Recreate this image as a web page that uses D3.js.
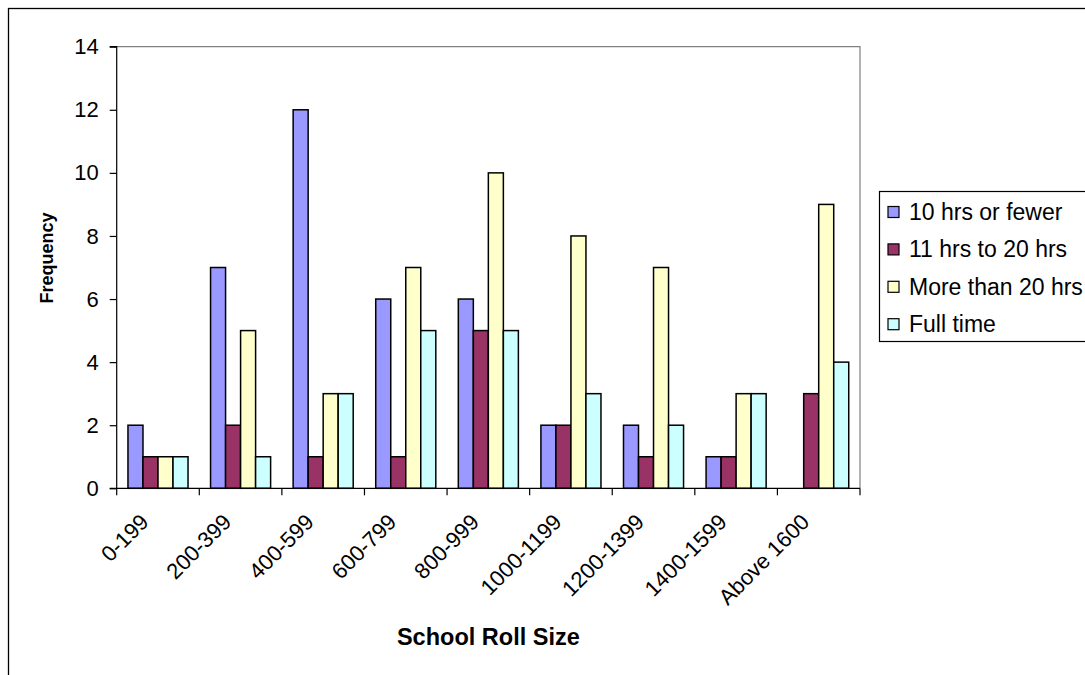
<!DOCTYPE html>
<html>
<head>
<meta charset="utf-8">
<script src="https://cdn.jsdelivr.net/npm/d3@7"></script>
<style>
html,body{margin:0;padding:0;background:#fff;}
svg{display:block;}
text{font-family:"Liberation Sans",Arial,sans-serif;fill:#000;}
</style>
</head>
<body>
<svg id="chart" width="1085" height="675"></svg>
<script>
const categories = ["0-199","200-399","400-599","600-799","800-999","1000-1199","1200-1399","1400-1599","Above 1600"];
const seriesNames = ["10 hrs or fewer","11 hrs to 20 hrs","More than 20 hrs","Full time"];
const tenOrFewer   = [2,7,12,6,6,2,2,1,0];
const elevenToTwenty = [1,2,1,1,5,2,1,1,3];
const moreThanTwenty = [1,5,3,7,10,8,7,3,9];
const fullTime     = [1,1,3,5,5,3,2,3,4];
const yTicks = [0,2,4,6,8,10,12,14];
const colors = ["#9999FF","#993366","#FFFFCC","#CCFFFF"];

const seriesValues = [tenOrFewer, elevenToTwenty, moreThanTwenty, fullTime];

const svg = d3.select("#chart");
// outer chart border
svg.append("rect").attr("x",8.5).attr("y",8.5).attr("width",1200).attr("height",800)
  .attr("fill","none").attr("stroke","#000").attr("stroke-width",1.3);

const L = 116.7, R = 860, T = 46.7, B = 488.3;

const x0 = d3.scaleBand().domain(categories).range([L, R]).paddingInner(0).paddingOuter(0);
const x1 = d3.scaleBand().domain(seriesNames).range([0, x0.bandwidth()]).paddingInner(0).paddingOuter(0.75);
const y = d3.scaleLinear().domain([0,14]).range([B, T]);

// plot area border (top & right gray)
svg.append("path")
  .attr("d", `M${L},${T}H${R}V${B}`)
  .attr("fill","none").attr("stroke","#808080").attr("stroke-width",1.2);

// bars
const groups = svg.append("g").selectAll("g")
  .data(seriesNames.map((n,i)=>({name:n, values:seriesValues[i], color:colors[i]})))
  .join("g");
groups.selectAll("rect")
  .data(d => d.values.map((v,j)=>({cat:categories[j], v, name:d.name, color:d.color})).filter(d=>d.v>0))
  .join("rect")
  .attr("x", d => x0(d.cat) + x1(d.name))
  .attr("width", x1.bandwidth())
  .attr("y", d => y(d.v))
  .attr("height", d => y(0) - y(d.v))
  .attr("fill", d => d.color)
  .attr("stroke", "#000")
  .attr("stroke-width", 1.5);

// y axis
const yAxis = d3.axisLeft(y).tickValues(yTicks).tickSize(7).tickPadding(11).tickFormat(d3.format("d"));
const gy = svg.append("g").attr("transform",`translate(${L},0)`).call(yAxis);
gy.select(".domain").attr("stroke","#000").attr("stroke-width",1.2).attr("d",`M-7,${T}H0V${B}H-7`);
gy.selectAll(".tick line").attr("stroke","#000").attr("stroke-width",1.2);
gy.selectAll(".tick text").style("font-family","Liberation Sans, Arial, sans-serif").style("font-size","22px").attr("fill","#000");

// x axis
const xAxis = d3.axisBottom(x0).tickSize(0).tickFormat("");
const gx = svg.append("g").attr("transform",`translate(0,${B})`).call(xAxis);
gx.select(".domain").attr("stroke","#000").attr("stroke-width",1.2).attr("d",`M${L},0H${R}`);
gx.selectAll(".tick").remove();
// boundary ticks
const bounds = categories.map(c => x0(c)).concat([R]);
gx.selectAll("line.bt").data(bounds).join("line").attr("class","bt")
  .attr("x1", d=>d).attr("x2", d=>d).attr("y1",0).attr("y2",7)
  .attr("stroke","#000").attr("stroke-width",1.2);
// rotated labels
svg.append("g").selectAll("text").data(categories).join("text")
  .attr("transform", d => `translate(${x0(d)+x0.bandwidth()/2-8},${B+35}) rotate(-45)`)
  .attr("text-anchor","end")
  .style("font-size","22px")
  .text(d=>d);

// axis titles
svg.append("text").attr("x",(L+R)/2).attr("y",645).attr("text-anchor","middle")
  .style("font-size","23.5px").style("font-weight","bold").text("School Roll Size");
svg.append("text").attr("transform",`translate(53,258) rotate(-90)`).attr("text-anchor","middle")
  .style("font-size","18px").style("font-weight","bold").text("Frequency");

// legend
const lg = svg.append("g");
lg.append("rect").attr("x",879.5).attr("y",191.5).attr("width",220).attr("height",150)
  .attr("fill","#fff").attr("stroke","#000").attr("stroke-width",1.2);
const items = lg.selectAll("g.item").data(seriesNames).join("g").attr("class","item")
  .attr("transform",(d,i)=>`translate(0,${212 + i*37.4})`);
items.append("rect").attr("x",888).attr("y",-5.5).attr("width",11).attr("height",11)
  .attr("fill",(d,i)=>colors[i]).attr("stroke","#000").attr("stroke-width",1.2);
items.append("text").attr("x",909).attr("y",0).attr("dy","0.35em")
  .style("font-size","23px").text(d=>d);
</script>
</body>
</html>
